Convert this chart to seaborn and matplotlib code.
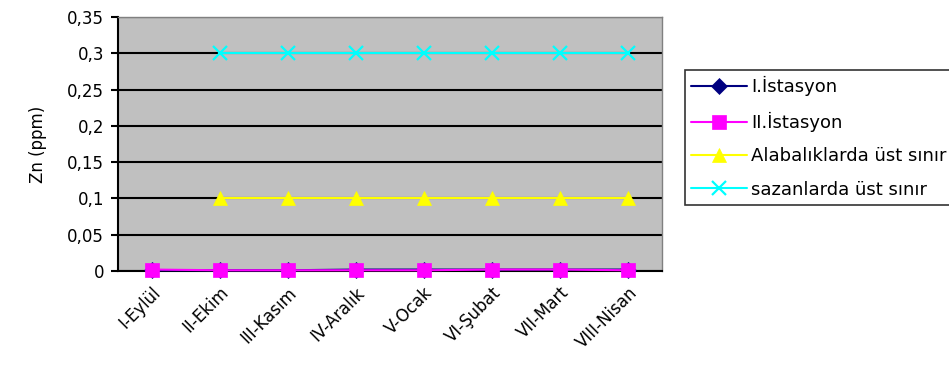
import matplotlib
matplotlib.use("Agg")
import matplotlib.pyplot as plt
import seaborn as sns
import pandas as pd
import numpy as np

months = ["I-Eylül", "II-Ekim", "III-Kasım", "IV-Aralık", "V-Ocak", "VI-Şubat", "VII-Mart", "VIII-Nisan"]
ist1 = [0.001, 0.001, 0.001, 0.002, 0.002, 0.002, 0.002, 0.002]
ist2 = [0.002, 0.001, 0.001, 0.001, 0.001, 0.002, 0.002, 0.001]
alabalik = [np.nan, 0.1, 0.1, 0.1, 0.1, 0.1, 0.1, 0.1]
sazan = [np.nan, 0.3, 0.3, 0.3, 0.3, 0.3, 0.3, 0.3]
names = ["I.İstasyon", "II.İstasyon", "Alabalıklarda üst sınır", "sazanlarda üst sınır"]
yticks = [0, 0.05, 0.1, 0.15, 0.2, 0.25, 0.3, 0.35]

sns.set_theme(style="white")
plt.rcParams['font.family'] = ['DejaVu Sans']
plt.rcParams.update({"text.color": "black", "axes.labelcolor": "black",
                     "xtick.color": "black", "ytick.color": "black"})
FS = 12
LFS = 13

fig = plt.figure(figsize=(9.49, 3.69), dpi=100)
ax = fig.add_axes([118/949, 1 - 271/369, (662-118)/949, (271-17)/369])
ax.set_facecolor("#C0C0C0")

x = np.arange(len(months))
styles = [
    (ist1, "#000080", "D", 8.5),
    (ist2, "#FF00FF", "s", 10),
    (alabalik, "#FFFF00", "^", 10.5),
    (sazan, "#00FFFF", "x", 9.5),
]
for name, (vals, col, mk, ms) in zip(names, styles):
    df = pd.DataFrame({"x": x, "y": vals})
    sns.lineplot(data=df, x="x", y="y", ax=ax, color=col, marker=mk, markersize=ms,
                 markeredgecolor=col, markeredgewidth=1.6 if mk == "x" else 0.5,
                 linewidth=1.5, label=name, clip_on=False, zorder=3)

ax.set_xlim(-0.5, len(months) - 0.5)
ax.set_ylim(0, 0.35)
ax.set_yticks(yticks)
ax.set_yticklabels([("%g" % v).replace(".", ",") for v in yticks], fontsize=FS, color="black")
ax.set_xticks(x)
ax.set_xticklabels(months, rotation=45, ha="right", rotation_mode="anchor", fontsize=FS, color="black")
ax.set_xticks(np.arange(-0.5, len(months), 1.0), minor=True)
ax.tick_params(axis="x", which="major", length=0, pad=9)
ax.tick_params(axis="x", which="minor", length=5, width=1.5, color="black", direction="out")
ax.tick_params(axis="y", length=5, width=1.5, color="black", direction="out", left=True, pad=5)
ax.grid(axis="y", color="black", linewidth=1.5)
ax.set_axisbelow(True)
ax.set_xlabel("")
ax.set_ylabel("Zn (ppm)", fontsize=FS, color="black")
ax.yaxis.set_label_coords(-0.13, 0.5)
for s in ["top", "right"]:
    ax.spines[s].set_color("#808080")
    ax.spines[s].set_linewidth(1)
for s in ["left", "bottom"]:
    ax.spines[s].set_color("black")
    ax.spines[s].set_linewidth(1.5)

leg = ax.legend(loc="upper left", bbox_to_anchor=(685/949, 1 - 70/369), bbox_transform=fig.transFigure,
                frameon=True, fancybox=False, edgecolor="black", fontsize=LFS, borderaxespad=0,
                handlelength=3.1, handletextpad=0.2, borderpad=0.35, labelspacing=0.85)
leg.get_frame().set_linewidth(1.2)
for t in leg.get_texts():
    t.set_color("black")

fig.savefig("out.png", dpi=100)
